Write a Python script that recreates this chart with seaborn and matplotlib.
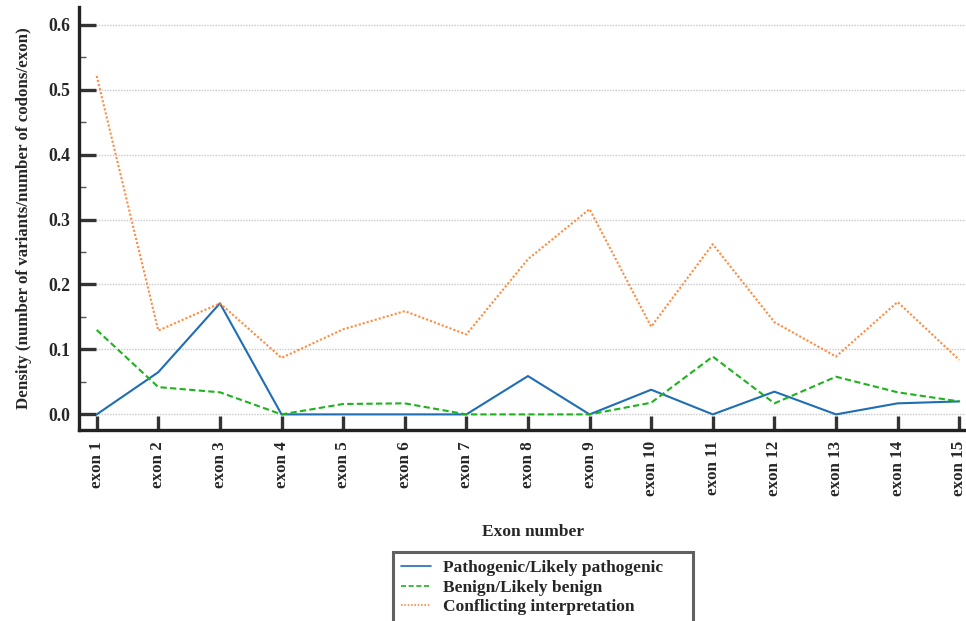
import numpy as np
import pandas as pd
import matplotlib
matplotlib.use("Agg")
import matplotlib.pyplot as plt
from matplotlib.ticker import MultipleLocator
import seaborn as sns

# Variant density per exon (number of variants / number of codons in the exon)
exons = [f"exon {i}" for i in range(1, 16)]
pathogenic = [0.0, 0.065, 0.171, 0.0, 0.0, 0.0, 0.0, 0.059, 0.0, 0.038, 0.0, 0.035, 0.0, 0.017, 0.020]
benign = [0.130, 0.042, 0.034, 0.0, 0.016, 0.017, 0.0, 0.0, 0.0, 0.018, 0.089, 0.017, 0.058, 0.034, 0.020]
conflicting = [0.521, 0.129, 0.171, 0.087, 0.131, 0.159, 0.123, 0.239, 0.316, 0.135, 0.262, 0.142, 0.089, 0.173, 0.084]

series_names = ["Pathogenic/Likely pathogenic", "Benign/Likely benign", "Conflicting interpretation"]
y_ticks = [0.0, 0.1, 0.2, 0.3, 0.4, 0.5, 0.6]

df = pd.concat([
    pd.DataFrame({"pos": np.arange(1, 16), "exon": exons, "density": vals, "group": name})
    for name, vals in zip(series_names, [pathogenic, benign, conflicting])
], ignore_index=True)

sns.set_theme(style="white")
plt.rcParams["font.family"] = ["Liberation Serif", "DejaVu Serif"]
plt.rcParams["font.weight"] = "bold"

FS = 12.2

fig = plt.figure(figsize=(9.66, 6.21), dpi=100)
ax = fig.add_axes([0.0818, 0.3076, 0.9182, 0.681])

palette = {series_names[0]: "#1f6db4", series_names[1]: "#1db31d", series_names[2]: "#ff8a3d"}
dashes = {series_names[0]: "", series_names[1]: (3, 1.6), series_names[2]: (1, 1)}

sns.lineplot(data=df, x="pos", y="density", hue="group", style="group",
             palette=palette, dashes=dashes, linewidth=1.5, ax=ax, legend=False)

ax.set_xlim(0.713, 15.11)
ax.set_ylim(-0.024, 0.627)
ax.set_xticks(np.arange(1, 16))
ax.set_xticklabels(exons, rotation=90, fontsize=FS, fontweight="bold")
ax.set_yticks(y_ticks)
ax.set_yticklabels([f"{v:.1f}" for v in y_ticks], fontsize=FS + 0.5, fontweight="bold")
ax.yaxis.set_minor_locator(MultipleLocator(0.05))

ax.grid(axis="y", which="major", color="#c8c8c8", linestyle=(0, (1, 1)), linewidth=1.0)
ax.set_axisbelow(True)

for side in ["top", "right"]:
    ax.spines[side].set_visible(False)
for side in ["left", "bottom"]:
    ax.spines[side].set_linewidth(2.4)
    ax.spines[side].set_color("#222222")

ax.tick_params(axis="both", which="major", direction="in", length=12, width=2.4,
               color="#333333", pad=6, left=True, bottom=True)
ax.tick_params(axis="y", which="minor", direction="in", length=5, width=1.0,
               color="#555555", left=True)
ax.tick_params(axis="x", which="major", length=10, pad=8)

ax.set_xlabel("")
ax.set_ylabel("Density (number of variants/number of codons/exon)", fontsize=FS,
              fontweight="bold", labelpad=12)
fig.text(0.552, 0.143, "Exon number", ha="center", va="center", fontsize=12.5, fontweight="bold")

# Legend handles built from the same styles as the plotted lines
handles = [plt.Line2D([], [], color=palette[n], linewidth=1.2,
                      linestyle="-" if dashes[n] == "" else (0, dashes[n]))
           for n in series_names]
leg = fig.legend(handles, series_names, loc="upper left",
                 bbox_to_anchor=(0.407, -0.2, 0.3106, 0.311), mode="expand",
                 borderaxespad=0.0, frameon=True, fancybox=False, handlelength=1.75,
                 handletextpad=0.65, borderpad=0.45, labelspacing=0.2,
                 prop={"size": 12.5, "weight": "bold"})
leg.get_frame().set_edgecolor("#3a3a3a")
leg.get_frame().set_linewidth(2.2)

fig.savefig("out.png", dpi=100, facecolor="white")
